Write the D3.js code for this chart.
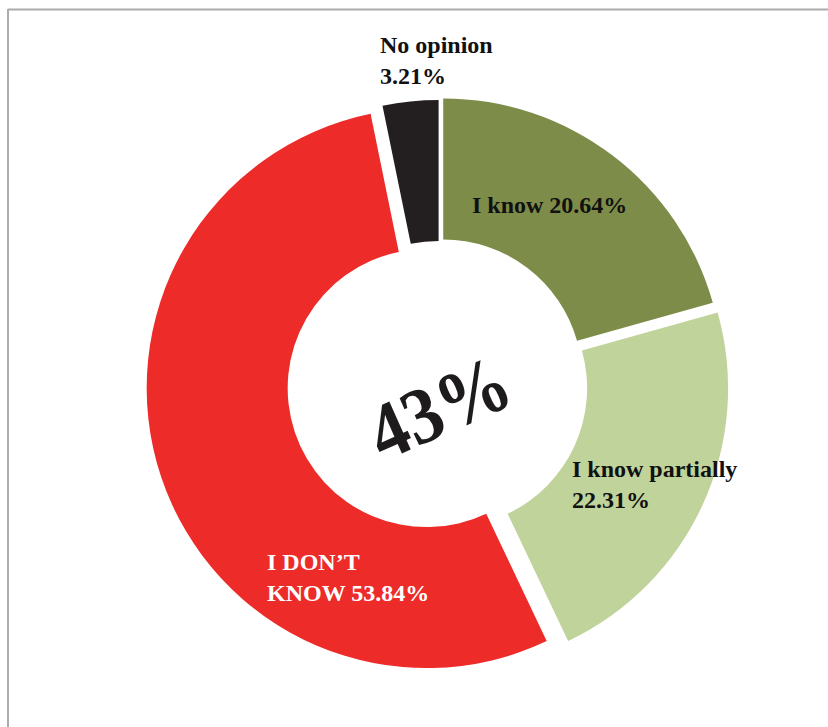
<!DOCTYPE html>
<html>
<head>
<meta charset="utf-8">
<script src="https://cdn.jsdelivr.net/npm/d3@7"></script>
<style>
  html, body { margin: 0; padding: 0; background: #fff; }
  svg { display: block; }
</style>
</head>
<body>
<svg id="chart" width="828" height="727"></svg>
<script>
// Survey answers, clockwise from 12 o'clock
const categories = ["I know", "I know partially", "I DON’T KNOW", "No opinion"];
const shares = [20.64, 22.31, 53.84, 3.21];
const centerLabel = "43%";

// Label lines per category (drawn inside / next to each slice)
const labelLines = [
  ["I know 20.64%"],
  ["I know partially", "22.31%"],
  ["I DON’T", "KNOW 53.84%"],
  ["No opinion", "3.21%"]
];

// Styling and layout
const colors = ["#7d8c48", "#c0d39b", "#ed2b29", "#231f20"];
const labelColors = ["#111", "#111", "#fff", "#111"];
const explode = [7, 10, 13, 4];             // px each slice is pulled out along its bisector
const labelOffsets = [[33, -171], [133, 93], [-172, 186], [-59, -331]];
const lineGap = 31;

const W = 828, H = 727;
const cx = 439, cy = 384;
const outerR = 280, innerR = 139;

const svg = d3.select("#chart");

// frame lines along the top and left edges
svg.append("line").attr("x1", 8).attr("y1", 9.5).attr("x2", W).attr("y2", 9.5)
  .attr("stroke", "#ababab").attr("stroke-width", 2);
svg.append("line").attr("x1", 8).attr("y1", 9).attr("x2", 8).attr("y2", H)
  .attr("stroke", "#ababab").attr("stroke-width", 2);

const pie = d3.pie().sort(null).value(d => d)
  .startAngle(0).endAngle(2 * Math.PI);
const arcs = pie(shares);

const arc = d3.arc().innerRadius(innerR).outerRadius(outerR);

const g = svg.append("g").attr("transform", `translate(${cx},${cy})`);

g.selectAll("path.slice")
  .data(arcs)
  .join("path")
  .attr("class", "slice")
  .attr("d", arc)
  .attr("fill", (d, i) => colors[i])
  .attr("transform", (d, i) => {
    const mid = (d.startAngle + d.endAngle) / 2;
    const dx = Math.sin(mid) * explode[i];
    const dy = -Math.cos(mid) * explode[i];
    return `translate(${dx},${dy})`;
  });

// slice labels
const labels = g.selectAll("text.lbl")
  .data(arcs)
  .join("text")
  .attr("class", "lbl")
  .attr("font-family", "'Liberation Serif', 'Times New Roman', serif")
  .attr("font-weight", "bold")
  .attr("font-size", 24)
  .attr("fill", (d, i) => labelColors[i])
  .attr("x", (d, i) => labelOffsets[i][0])
  .attr("y", (d, i) => labelOffsets[i][1]);

labels.selectAll("tspan")
  .data((d, i) => labelLines[i].map((t, k) => ({ t, k, i })))
  .join("tspan")
  .attr("x", d => labelOffsets[d.i][0])
  .attr("y", d => labelOffsets[d.i][1] + d.k * lineGap)
  .text(d => d.t);

// big rotated figure in the hole
g.append("text")
  .attr("transform", "translate(11,48) rotate(-24) scale(0.92,1)")
  .attr("text-anchor", "middle")
  .attr("font-family", "'Liberation Serif', 'Times New Roman', serif")
  .attr("font-weight", "bold")
  .attr("font-size", 80)
  .attr("fill", "#1e1b1c")
  .text(centerLabel);
</script>
</body>
</html>
